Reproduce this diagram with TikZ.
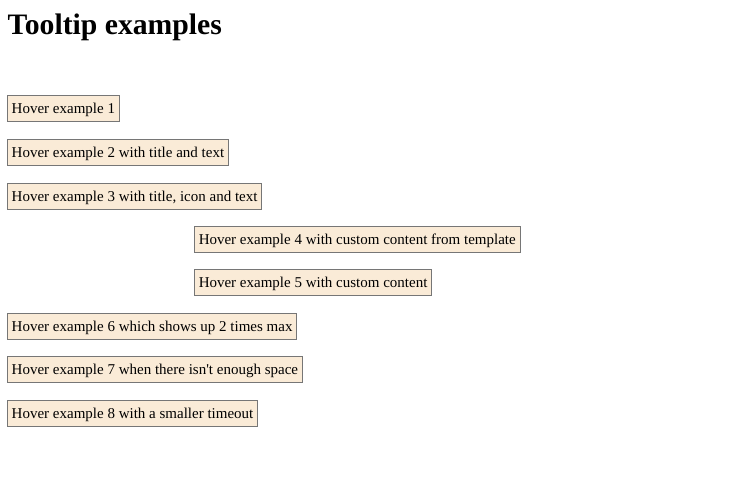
\documentclass[tikz,border=0pt]{standalone}
\usepackage{fontspec}
\setmainfont{Liberation Serif}[Ligatures=TeXOff]
\definecolor{boxfill}{HTML}{FAEBD7}
\definecolor{boxline}{HTML}{767676}
\tikzset{
  hoverbox/.style={draw=boxline, line width=0.9pt, fill=boxfill, anchor=north west,
    minimum height=26pt, inner xsep=4.3pt, inner ysep=0pt,
    font=\fontsize{15pt}{18pt}\selectfont, text height=11.5pt, text depth=2pt},
  titletext/.style={anchor=base west, inner sep=0pt, font=\fontsize{29.7pt}{34pt}\selectfont\bfseries}
}
\begin{document}
\begin{tikzpicture}[x=1pt,y=-1pt]
\useasboundingbox[fill=white] (0,0) rectangle (730,490);
\node[titletext] (title) at (7.5,34) {Tooltip examples};
\node[hoverbox] (h1) at (7,95) {Hover example 1};
\node[hoverbox] (h2) at (7,139) {Hover example 2 with title and text};
\node[hoverbox] (h3) at (7,183) {Hover example 3 with title, icon and text};
\node[hoverbox] (h4) at (194,226) {Hover example 4 with custom content from template};
\node[hoverbox] (h5) at (194,269) {Hover example 5 with custom content};
\node[hoverbox] (h6) at (7,313) {Hover example 6 which shows up 2 times max};
\node[hoverbox] (h7) at (7,356) {Hover example 7 when there isn't enough space};
\node[hoverbox] (h8) at (7,400) {Hover example 8 with a smaller timeout};
\end{tikzpicture}
\end{document}
